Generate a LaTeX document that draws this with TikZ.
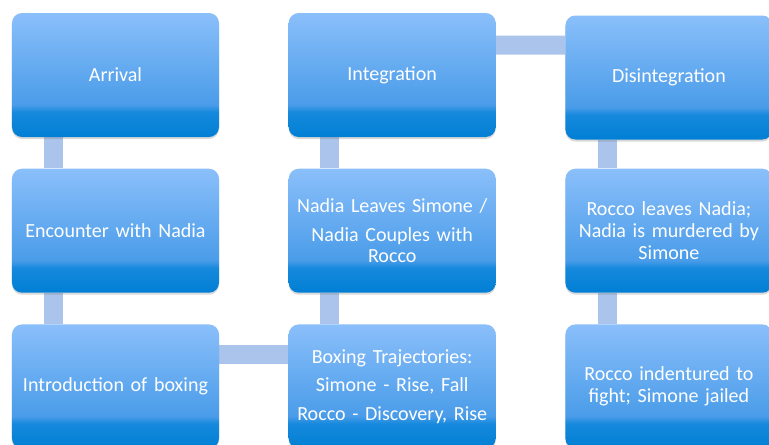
\documentclass[tikz,border=0pt]{standalone}
\usepackage{fontspec}
\setmainfont{Carlito}
\usetikzlibrary{positioning, backgrounds, shadows}
\definecolor{boxtop}{RGB}{138,191,250}
\definecolor{boxmid}{RGB}{74,156,233}
\definecolor{boxlow}{RGB}{22,137,220}
\definecolor{boxbot}{RGB}{0,127,212}
\definecolor{linkblue}{RGB}{170,196,235}
% light on top, a darker band near the bottom
\pgfdeclareverticalshading{boxfade}{100bp}{color(0bp)=(boxbot); color(25bp)=(boxbot);
  color(35bp)=(boxlow); color(38bp)=(boxmid); color(75bp)=(boxtop); color(100bp)=(boxtop)}

\begin{document}
\begin{tikzpicture}[
        node distance=0.62cm and 1.38cm,
        block/.style={rectangle, rounded corners=0.2cm, shading=boxfade,
                      drop shadow={opacity=0.3, shadow xshift=0pt, shadow yshift=-0.04cm},
                      minimum width=4.14cm, minimum height=2.48cm,
                      text width=3.9cm, inner xsep=0.12cm,
                      align=center, text=white, font=\fontsize{11.4}{12.3}\selectfont},
        link/.style={line width=0.38cm, draw=linkblue}
    ]
        \useasboundingbox (0,0) rectangle (15.38,-8.88);
        \node[block] (arrival) at (2.31,-1.5) {Arrival};
        \node[block, below=of arrival] (encounter) {Encounter with Nadia};
        \node[block, below=of encounter] (intro) {Introduction of boxing};
        \node[block, right=of intro] (trajectories) {Boxing Trajectories:\\[4pt]
            Simone - Rise, Fall\\[4pt] Rocco - Discovery, Rise};
        \node[block, above=of trajectories] (leaves) {Nadia Leaves Simone /\\[4pt]
            Nadia Couples with\\Rocco};
        \node[block, above=of leaves] (integration) {Integration};
        \node[block, right=of integration, yshift=-0.05cm] (disintegration) {Disintegration};
        \node[block, right=of leaves] (murder) {Rocco leaves Nadia;\\Nadia is murdered by\\Simone};
        \node[block, right=of trajectories] (jailed) {Rocco indentured to\\fight; Simone jailed};
        % the thick bars run behind the boxes
        \begin{scope}[on background layer]
            \draw[link] ([xshift=0.83cm]arrival.south west) -- ([xshift=0.83cm]encounter.north west);
            \draw[link] ([xshift=0.83cm]encounter.south west) -- ([xshift=0.83cm]intro.north west);
            \draw[link] ([yshift=-0.61cm]intro.north east) -- ([yshift=-0.61cm]trajectories.north west);
            \draw[link] ([xshift=0.83cm]trajectories.north west) -- ([xshift=0.83cm]leaves.south west);
            \draw[link] ([xshift=0.83cm]leaves.north west) -- ([xshift=0.83cm]integration.south west);
            \draw[link] ([yshift=-0.65cm]integration.north east) -- ([yshift=-0.6cm]disintegration.north west);
            \draw[link] ([xshift=0.85cm]disintegration.south west) -- ([xshift=0.85cm]murder.north west);
            \draw[link] ([xshift=0.85cm]murder.south west) -- ([xshift=0.85cm]jailed.north west);
        \end{scope}
    \end{tikzpicture}
\end{document}
